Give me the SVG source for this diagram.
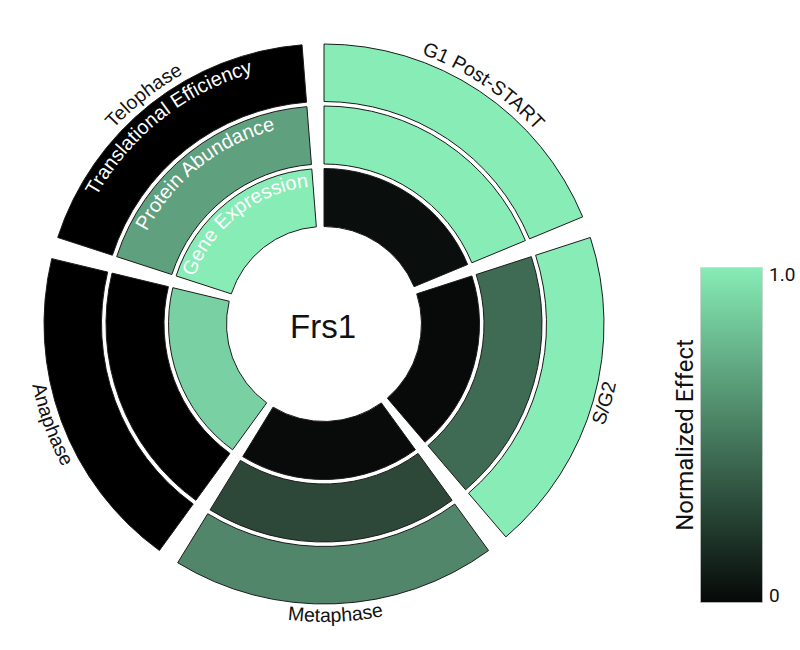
<svg xmlns="http://www.w3.org/2000/svg" xmlns:xlink="http://www.w3.org/1999/xlink" width="800" height="650" viewBox="0 0 800 650">
<style>
.seg{stroke:#1b1b1b;stroke-width:1}
.phase{font-family:"Liberation Sans",Arial,sans-serif;font-size:19.5px;fill:#111}
.ring{font-family:"Liberation Sans",Arial,sans-serif;font-size:20px;fill:#ffffff}
.leg{font-family:Roboto,"Liberation Sans",sans-serif;fill:#111}
</style>
<defs>
<linearGradient id="cmap" x1="0" y1="0" x2="0" y2="1">
<stop offset="0" stop-color="#87ecb6"/>
<stop offset="0.5" stop-color="#467a5e"/>
<stop offset="1" stop-color="#050807"/>
</linearGradient>
<path id="pTelo" d="M37.13,315.24 A287,287 0 0 1 382.44,43.01"/>
<path id="pG1" d="M243.69,48.47 A287,287 0 0 1 609.30,292.75"/>
<path id="pSG2" d="M446.39,595.70 A298,298 0 0 0 570.32,156.29"/>
<path id="pMeta" d="M103.41,524.37 A298,298 0 0 0 559.63,506.44"/>
<path id="pAna" d="M65.28,176.13 A298,298 0 0 0 223.30,604.47"/>
<path id="pR3" d="M63.12,316.03 A261,261 0 0 1 377.15,68.47"/>
<path id="pR2" d="M124.09,317.89 A200,200 0 0 1 364.73,128.19"/>
<path id="pR1" d="M186.06,319.79 A138,138 0 0 1 352.10,188.89"/>
</defs>
<rect width="800" height="650" fill="#ffffff"/>

<g id="g1-post-start">
<path class="seg" fill="#0a0e0c" d="M324,168.5 A155.5,155.5 0 0 1 467.66,264.49 L414.08,286.69 A97.5,97.5 0 0 0 324,226.5 Z"/>
<path class="seg" fill="#87ecb6" d="M324,106 A218,218 0 0 1 525.41,240.58 L471.82,262.77 A160,160 0 0 0 324,164 Z"/>
<path class="seg" fill="#87ecb6" d="M324,44 A280,280 0 0 1 582.69,216.85 L529.56,238.85 A222.5,222.5 0 0 0 324,101.5 Z"/>
<text class="phase"><textPath xlink:href="#pG1" href="#pG1" startOffset="50%" text-anchor="middle">G1 Post-START</textPath></text>
</g>

<g id="s-g2">
<path class="seg" fill="#070a08" d="M471.89,275.95 A155.5,155.5 0 0 1 424.99,442.24 L387.32,398.14 A97.5,97.5 0 0 0 416.73,293.87 Z"/>
<path class="seg" fill="#3f6b54" d="M531.33,256.63 A218,218 0 0 1 465.58,489.77 L427.91,445.67 A160,160 0 0 0 476.17,274.56 Z"/>
<path class="seg" fill="#87ecb6" d="M590.30,237.47 A280,280 0 0 1 505.85,536.91 L468.50,493.19 A222.5,222.5 0 0 0 535.61,255.24 Z"/>
<text class="phase"><textPath xlink:href="#pSG2" href="#pSG2" startOffset="50%" text-anchor="middle">S/G2</textPath></text>
</g>

<g id="metaphase">
<path class="seg" fill="#080b09" d="M415.40,449.80 A155.5,155.5 0 0 1 242.75,456.59 L273.06,407.13 A97.5,97.5 0 0 0 381.31,402.88 Z"/>
<path class="seg" fill="#2d4838" d="M452.14,500.37 A218,218 0 0 1 210.09,509.88 L240.40,460.42 A160,160 0 0 0 418.05,453.44 Z"/>
<path class="seg" fill="#52866b" d="M488.58,550.53 A280,280 0 0 1 177.70,562.74 L207.74,513.71 A222.5,222.5 0 0 0 454.78,504.01 Z"/>
<text class="phase"><textPath xlink:href="#pMeta" href="#pMeta" startOffset="50%" text-anchor="middle">Metaphase</textPath></text>
</g>

<g id="anaphase">
<path class="seg" fill="#79d0a2" d="M232.60,449.80 A155.5,155.5 0 0 1 172.80,287.70 L229.19,301.24 A97.5,97.5 0 0 0 266.69,402.88 Z"/>
<path class="seg" fill="#000000" d="M195.86,500.37 A218,218 0 0 1 112.02,273.11 L168.42,286.65 A160,160 0 0 0 229.95,453.44 Z"/>
<path class="seg" fill="#000000" d="M159.42,550.53 A280,280 0 0 1 51.74,258.63 L107.65,272.06 A222.5,222.5 0 0 0 193.22,504.01 Z"/>
<text class="phase"><textPath xlink:href="#pAna" href="#pAna" startOffset="50%" text-anchor="middle">Anaphase</textPath></text>
</g>

<g id="telophase">
<path class="seg" fill="#87ecb6" d="M176.11,275.95 A155.5,155.5 0 0 1 311.80,168.98 L316.35,226.80 A97.5,97.5 0 0 0 231.27,293.87 Z"/>
<path class="seg" fill="#5fa07e" d="M116.67,256.63 A218,218 0 0 1 306.90,106.67 L311.45,164.49 A160,160 0 0 0 171.83,274.56 Z"/>
<path class="seg" fill="#000000" d="M57.70,237.47 A280,280 0 0 1 302.03,44.86 L306.54,102.19 A222.5,222.5 0 0 0 112.39,255.24 Z"/>
<text class="phase"><textPath xlink:href="#pTelo" href="#pTelo" startOffset="50%" text-anchor="middle">Telophase</textPath></text>
<text class="ring"><textPath xlink:href="#pR3" href="#pR3" startOffset="50%" text-anchor="middle">Translational Efficiency</textPath></text>
<text class="ring"><textPath xlink:href="#pR2" href="#pR2" startOffset="50%" text-anchor="middle">Protein Abundance</textPath></text>
<text class="ring"><textPath xlink:href="#pR1" href="#pR1" startOffset="50%" text-anchor="middle">Gene Expression</textPath></text>
</g>

<g id="center">
<text x="323" y="338" text-anchor="middle" font-family="Liberation Sans, Arial, sans-serif" font-size="33" fill="#111">Frs1</text>
</g>

<g id="legend">
<rect x="700.5" y="267.5" width="62" height="335" fill="url(#cmap)" stroke="#cfcfcf" stroke-width="0.6"/>
<text class="leg" x="769" y="281" font-size="19">1.0</text>
<text class="leg" x="769" y="602" font-size="19">0</text>
<text class="leg" transform="translate(693,435) rotate(-90)" text-anchor="middle" font-size="24">Normalized Effect</text>
</g>
</svg>
